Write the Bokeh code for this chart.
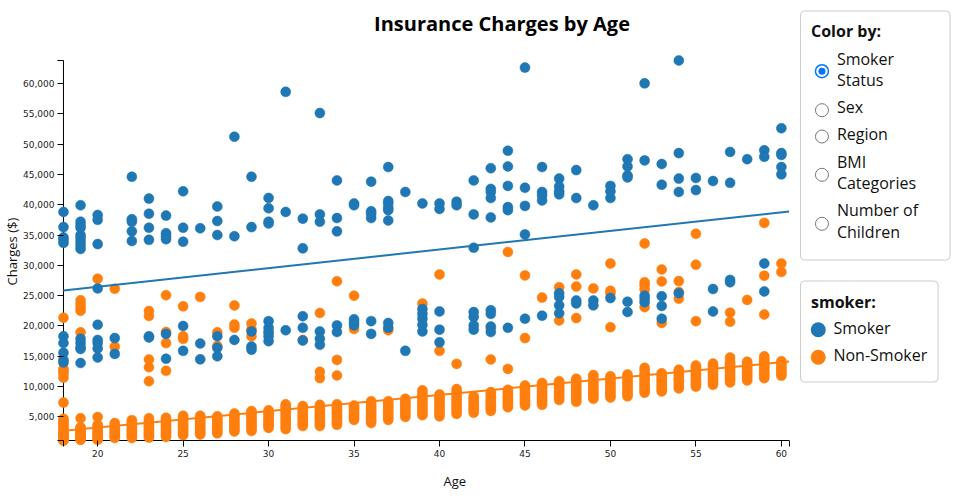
from bokeh.plotting import figure
from bokeh.models import Range1d, FixedTicker, NumeralTickFormatter, Title
from bokeh.core.properties import value
from bokeh.embed import file_html
from bokeh.resources import INLINE

# ---------------- data ----------------
ages = list(range(18, 61))

smoker_charges = [
    [38800, 36300, 34600, 34200, 33700, 18300, 17200, 15600, 14400, 14000],            # 18
    [39900, 37200, 36600, 36200, 35000, 34500, 33900, 33300, 32700, 17900, 17200, 16500, 16200, 13900],  # 19
    [38300, 37500, 33500, 26200, 20200, 17700, 17200, 16300, 14800],                   # 20
    [18000, 15400],                                                                     # 21
    [44600, 37600, 37200, 35600, 34000],                                                # 22
    [41000, 38500, 36200, 34200, 18300, 18100],                                         # 23
    [38200, 35300, 34800, 34300, 18700, 14600],                                         # 24
    [42200, 36200, 33900, 20000, 15900],                                                # 25
    [36100, 17100, 14500],                                                              # 26
    [39700, 37300, 35000, 18300, 16400, 15000],                                         # 27
    [51200, 34800, 17700],                                                              # 28
    [44600, 36300, 19100, 16600, 16100],                                                # 29
    [41100, 39400, 37200, 36900, 20800, 19700, 18900, 18300, 17500],                   # 30
    [58600, 38800, 19300],                                                              # 31
    [37700, 32800, 21600, 19700, 17600],                                                # 32
    [55100, 38400, 37200, 19100, 17900, 16900],                                         # 33
    [44000, 37800, 35600, 20100, 19000],                                                # 34
    [40200, 39900, 21100, 20600, 20100],                                                # 35
    [43800, 38900, 38500, 37800, 20800, 18700],                                         # 36
    [46200, 40600, 40200, 39500, 39100, 37400, 20500, 19700],                           # 37
    [42100, 15900],                                                                     # 38
    [40200, 22800, 22000, 21200, 20200, 19100],                                         # 39
    [40200, 39300, 22400, 19400, 17300],                                                # 40
    [40500, 39900],                                                                     # 41
    [44000, 38400, 32900, 22300, 21500, 20100, 19400],                                  # 42
    [46000, 42600, 42100, 41100, 37900, 22600, 22000, 19900, 19000],                   # 43
    [48900, 46300, 43100, 39600, 39100, 19700],                                         # 44
    [62600, 42800, 39800, 35100, 21200],                                                # 45
    [46200, 42100, 41500, 40700, 21700],                                                # 46
    [44300, 43000, 42200, 41700, 25400, 24800, 23400, 22100],                           # 47
    [45700, 41100, 24200, 23700],                                                       # 48
    [39900, 24200, 23400],                                                              # 49
    [43100, 42200, 41100, 24600],                                                       # 50
    [47500, 46300, 44800, 44500, 24000, 22300],                                         # 51
    [60000, 47300, 25000, 24500, 23900],                                                # 52
    [46700, 43300, 24900, 23300, 21200],                                                # 53
    [63770, 48500, 44300, 42100, 25400],                                                # 54
    [44400, 42400],                                                                     # 55
    [43900, 26100, 22400],                                                              # 56
    [48700, 43600, 27600, 27200],                                                       # 57
    [47500],                                                                            # 58
    [48970, 47900, 30300, 25700],                                                       # 59
    [52600, 48500, 48200, 46200, 45000],                                                # 60
]

nonsmoker_charges = [
    [1122, 1140, 1260, 1630, 1710, 1990, 2200, 2460, 2750, 3010, 3390, 3700, 4040, 4400, 4690,
     7370, 11480, 12110, 12520, 12950, 21350],                                          # 18
    [1240, 1260, 1500, 1730, 1900, 2130, 2350, 2640, 2900, 3180, 3300,
     4790, 18950, 22500, 23050, 23600, 24230],                                          # 19
    [1240, 1390, 1610, 1880, 2100, 2300, 2600, 2900, 3240, 3500, 3700, 4990, 27800],    # 20
    [1520, 1700, 1970, 2250, 2500, 2750, 3050, 3350, 3650, 3990, 16590, 26140],         # 21
    [1520, 1730, 2020, 2300, 2600, 2910, 3200, 3500, 3800, 4150, 4480],                 # 22
    [1600, 1820, 2100, 2400, 2700, 3000, 3300, 3600, 3960, 4300, 4780,
     10900, 13200, 14480, 21650, 22460],                                               # 23
    [1700, 1960, 2250, 2560, 2880, 3200, 3500, 3850, 4200, 4550, 4880,
     12610, 17180, 19000, 25080],                                                      # 24
    [2000, 2280, 2600, 2900, 3220, 3550, 3850, 4200, 4550, 4900, 5200, 17880, 18300, 23240],  # 25
    [2100, 2400, 2700, 3000, 3300, 3650, 3950, 4300, 4650, 5000, 5210, 24800],          # 26
    [2300, 2600, 2900, 3200, 3550, 3850, 4150, 4500, 4800, 5100, 16700, 18960],         # 27
    [2600, 2900, 3200, 3550, 3850, 4200, 4500, 4850, 5200, 5580, 19700, 20230, 23390],  # 28
    [2700, 3000, 3350, 3650, 4000, 4350, 4650, 5000, 5350, 5700, 5980, 18310, 19440, 20420],  # 29
    [3200, 3500, 3800, 4150, 4450, 4800, 5100, 5450, 5800, 6100, 19110],                # 30
    [3000, 3350, 3700, 4050, 4400, 4750, 5100, 5450, 5800, 6150, 6500, 6800, 7100],     # 31
    [3500, 3800, 4150, 4450, 4800, 5150, 5500, 5800, 6150, 6500, 6800, 17700],          # 32
    [3500, 3850, 4200, 4550, 4900, 5250, 5600, 5950, 6300, 6650, 7000, 11410, 12450, 22140],  # 33
    [3700, 4050, 4400, 4750, 5100, 5450, 5800, 6150, 6500, 6800, 7100, 11840, 14410, 27380],  # 34
    [4500, 4800, 5100, 5400, 5700, 6000, 6300, 6600, 6900, 19500, 25000],               # 35
    [4000, 4350, 4700, 5050, 5400, 5750, 6100, 6450, 6800, 7150, 7600],                 # 36
    [4500, 4850, 5200, 5550, 5900, 6250, 6600, 6950, 7300, 7600, 19300],                # 37
    [5000, 5350, 5700, 6050, 6400, 6750, 7100, 7400, 7700, 8000],                       # 38
    [5300, 5700, 6100, 6500, 6900, 7300, 7700, 8100, 8500, 8900, 9400, 23700],          # 39
    [5100, 5450, 5800, 6150, 6500, 6850, 7250, 7650, 8000, 8350, 8700, 15900, 28480],   # 40
    [5500, 5900, 6300, 6700, 7100, 7500, 7900, 8300, 8700, 9150, 9600, 13750],          # 41
    [5700, 6050, 6400, 6750, 7100, 7400, 7750, 8100, 8400],                             # 42
    [6000, 6350, 6700, 7050, 7400, 7750, 8100, 8450, 8800, 9100, 14480, 19600],         # 43
    [6600, 6950, 7300, 7650, 8000, 8350, 8700, 9050, 9500, 12930, 32210],               # 44
    [6900, 7250, 7600, 7950, 8300, 8650, 9000, 9400, 9800, 10200, 18000, 28340],        # 45
    [7000, 7350, 7700, 8050, 8400, 8750, 9100, 9500, 9900, 10250, 10600, 24680],        # 46
    [7800, 8150, 8500, 8850, 9200, 9550, 9900, 10250, 10600, 10900, 20900, 26400],      # 47
    [7500, 7850, 8200, 8550, 8900, 9250, 9600, 9950, 10300, 10650, 11000, 11300,
     21300, 26500, 28500],                                                             # 48
    [8000, 8350, 8700, 9050, 9400, 9750, 10100, 10450, 10800, 11150, 11500, 11900, 26200],  # 49
    [8200, 8550, 8900, 9250, 9600, 9950, 10300, 10650, 11000, 11350, 11700,
     19800, 25400, 25800, 30300],                                                      # 50
    [8400, 8750, 9100, 9450, 9800, 10150, 10500, 10850, 11200, 11600, 12000],           # 51
    [9000, 9350, 9700, 10050, 10400, 10750, 11100, 11450, 11800, 12200, 12700, 13100,
     23100, 26000, 26700, 27200, 33600],                                               # 52
    [9200, 9550, 9900, 10250, 10600, 10950, 11300, 11650, 12000, 12200, 20500, 27350, 29300],  # 53
    [9700, 10050, 10400, 10750, 11100, 11450, 11800, 12150, 12500, 12800, 24500, 25600, 27400],  # 54
    [10000, 10350, 10700, 11050, 11400, 11750, 12100, 12450, 12800, 13150, 13500,
     20800, 30100, 35200],                                                             # 55
    [10300, 10650, 11000, 11350, 11700, 12050, 12400, 12750, 13100, 13450, 13800],      # 56
    [10700, 11050, 11400, 11750, 12100, 12450, 12800, 13150, 13500, 13800, 14100, 14800,
     20700, 22200],                                                                    # 57
    [11000, 11350, 11700, 12050, 12400, 12750, 13100, 13450, 13800, 14100, 24300],      # 58
    [11400, 11750, 12100, 12450, 12800, 13150, 13500, 13850, 14200, 14600, 15000,
     21900, 28300, 37000],                                                             # 59
    [11800, 12150, 12500, 12850, 13200, 13550, 13900, 14200, 28900, 30300],             # 60
]

trend_age = [18, 60.45]
smoker_trend = [25870, 38870]
nonsmoker_trend = [2730, 14140]

age_domain = [18, 60.45]
charge_domain = [1121.87, 63770.43]
x_ticks = [20, 25, 30, 35, 40, 45, 50, 55, 60]
y_ticks = [5000, 10000, 15000, 20000, 25000, 30000, 35000, 40000, 45000, 50000, 55000, 60000]

title_text = "Insurance Charges by Age"
x_label = "Age"
y_label = "Charges ($)"
color_by_title = "Color by:"
color_by_options = [["Smoker", "Status"], ["Sex"], ["Region"], ["BMI", "Categories"], ["Number of", "Children"]]
legend_title = "smoker:"
legend_labels = ["Smoker", "Non-Smoker"]

SMOKER_COLOR = "#1f77b4"
NONSMOKER_COLOR = "#ff7f0e"
FONT = "Open Sans"

# ---------------- geometry (pixels) ----------------
W, H = 958, 500
BL, BT, BR, BB = 54, 0, 0, 54
FRAME_W, FRAME_H = W - BL - BR, H - BT - BB
AX_LEFT, AX_RIGHT = 60, 788      # pixel span of the age domain
AX_TOP, AX_BOTTOM = 60, 440      # pixel span of the charge domain
TEXT_SHIFT = -8                  # baseline correction for text glyphs

px_x = (AX_RIGHT - AX_LEFT) / (age_domain[1] - age_domain[0])
px_y = (AX_BOTTOM - AX_TOP) / (charge_domain[1] - charge_domain[0])
x0 = age_domain[0] - (AX_LEFT - BL) / px_x
y1 = charge_domain[1] + (AX_TOP - BT) / px_y
x_range = Range1d(x0, x0 + FRAME_W / px_x)
y_range = Range1d(y1 - FRAME_H / px_y, y1)


def dx(px):
    return x0 + (px - BL) / px_x


def dy(py):
    return y1 - (py - BT) / px_y


p = figure(width=W, height=H, x_range=x_range, y_range=y_range,
           output_backend="svg", toolbar_location=None,
           min_border_left=BL, min_border_right=BR, min_border_top=BT, min_border_bottom=BB)
p.outline_line_color = None
p.xgrid.visible = False
p.ygrid.visible = False
p.background_fill_color = "white"
p.border_fill_color = "white"

for ax, ticks, dom in ((p.xaxis[0], x_ticks, age_domain), (p.yaxis[0], y_ticks, charge_domain)):
    ax.ticker = FixedTicker(ticks=[dom[0]] + ticks + [dom[1]])
    ax.major_label_overrides = {dom[0]: "", dom[1]: ""}
    ax.axis_line_color = None
    ax.major_tick_in = 6
    ax.major_tick_out = 0
    ax.major_tick_line_color = "black"
    ax.minor_tick_line_color = None
    ax.major_label_standoff = 3
    ax.major_label_text_font = "DejaVu Sans"
    ax.major_label_text_font_size = "9px"
    ax.major_label_text_color = "#222"
p.yaxis[0].formatter = NumeralTickFormatter(format="0,0")

# axis titles (left-aligned with an offset so they sit where the reference has them)
p.add_layout(Title(text=y_label, align="left", offset=161, standoff=0, text_font=FONT,
                   text_font_size="13px", text_font_style="normal", text_color="#111"), "left")
p.add_layout(Title(text=x_label, align="left", offset=386, standoff=21, text_font=FONT,
                   text_font_size="13px", text_font_style="normal", text_color="#111"), "below")

# axis lines along the data domain
p.line([age_domain[0], age_domain[0]], charge_domain, line_color="black", line_width=1)
p.line(age_domain, [charge_domain[0], charge_domain[0]], line_color="black", line_width=1)

ns_x = [a for a, vals in zip(ages, nonsmoker_charges) for _ in vals]
ns_y = [v for vals in nonsmoker_charges for v in vals]
s_x = [a for a, vals in zip(ages, smoker_charges) for _ in vals]
s_y = [v for vals in smoker_charges for v in vals]

p.scatter(ns_x, ns_y, size=10, fill_color=NONSMOKER_COLOR, line_color=NONSMOKER_COLOR, line_width=0.5)
p.scatter(s_x, s_y, size=10, fill_color=SMOKER_COLOR, line_color=SMOKER_COLOR, line_width=0.5)

p.line(trend_age, smoker_trend, line_color=SMOKER_COLOR, line_width=2)
p.line(trend_age, nonsmoker_trend, line_color=NONSMOKER_COLOR, line_width=2)

# chart title
p.text(x=[dx(500)], y=[dy(30.7 + TEXT_SHIFT)], text=[title_text], text_font=value(FONT),
       text_font_size="20px", text_font_style="bold", text_color="black",
       text_align="center", text_baseline="alphabetic")

# ---------------- side panels ----------------
def panel(l, t, r, b):
    p.quad(left=[dx(l)], right=[dx(r)], top=[dy(t)], bottom=[dy(b)],
           fill_color="white", line_color="#cccccc", line_width=1, border_radius=4)


def label(px, py, texts, bold=False):
    p.text(x=[dx(px)] * len(texts), y=[dy(v + TEXT_SHIFT) for v in py], text=texts,
           text_font=value(FONT), text_font_size="16px",
           text_font_style="bold" if bold else "normal",
           text_color="#111", text_baseline="alphabetic")


panel(799.5, 10.5, 949.5, 259.5)
panel(799.5, 280.5, 937.5, 381.5)

label(810, [38.3], [color_by_title], bold=True)
radio_y = [70.7, 109.7, 136, 174.3, 223.3]
line_baselines = [[66.7, 87.3], [114.3], [141], [169, 190.7], [217.3, 239.3]]
for i, (lines, ry, bls) in enumerate(zip(color_by_options, radio_y, line_baselines)):
    if i == 0:
        p.scatter([dx(821)], [dy(ry)], size=13, fill_color="white", line_color="#0075ff", line_width=1.5)
        p.scatter([dx(821)], [dy(ry)], size=7, fill_color="#0075ff", line_color=None)
    else:
        p.scatter([dx(821)], [dy(ry)], size=13, fill_color="white", line_color="#767676", line_width=1)
    label(836, bls, lines)

label(810, [309.3], [legend_title], bold=True)
p.scatter([dx(817.3)] * 2, [dy(329.3), dy(356.7)], size=15,
          fill_color=[SMOKER_COLOR, NONSMOKER_COLOR], line_color=None)
label(832.5, [335, 362.3], legend_labels)

open("out.html", "w").write(file_html(p, INLINE))
